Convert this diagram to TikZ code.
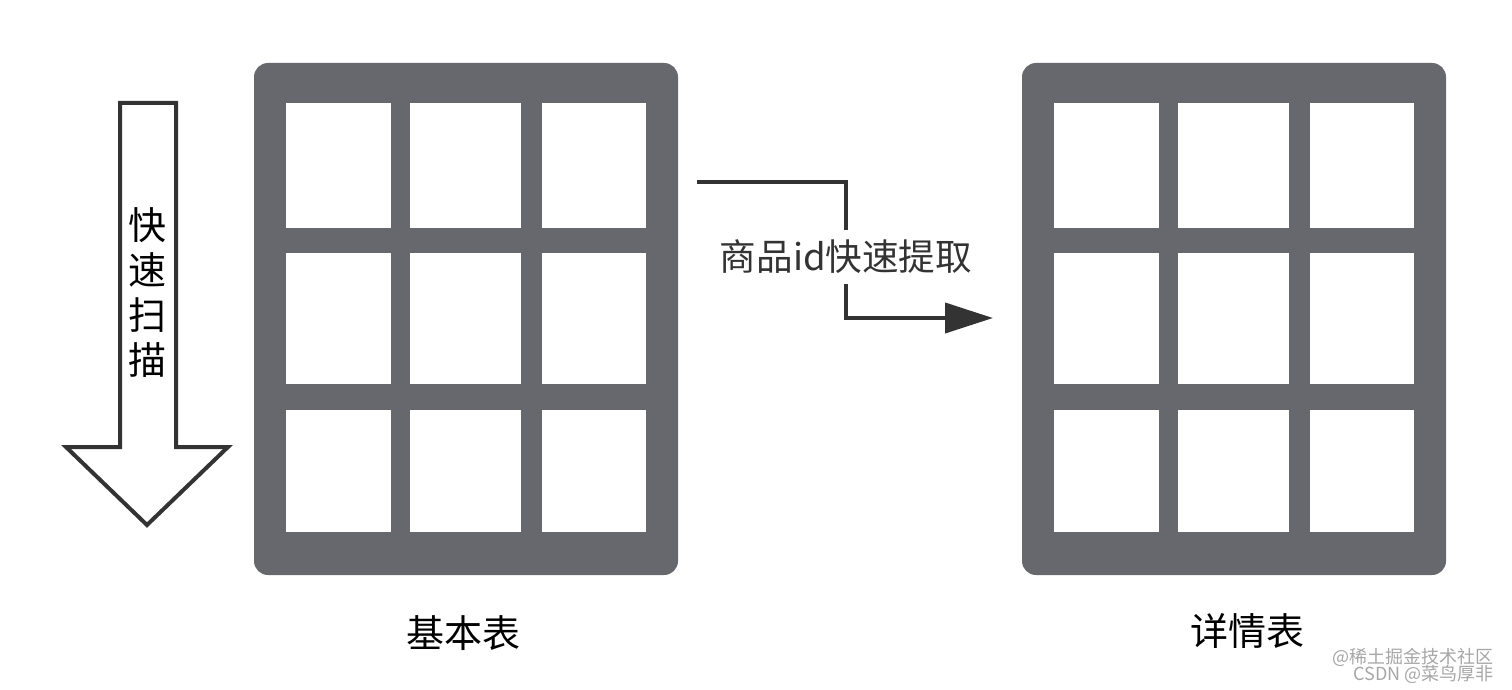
\documentclass[tikz,border=0pt]{standalone}
\usepackage{fontspec}
\setmainfont{Noto Sans CJK SC}
\usepackage{xcolor}
\usetikzlibrary{arrows.meta}
\definecolor{tablegray}{HTML}{67686E}
\definecolor{linedark}{HTML}{333333}

\begin{document}
\begin{tikzpicture}[x=0.5pt, y=-0.5pt, every node/.style={inner sep=0pt}]
    \useasboundingbox (0,0) rectangle (1512,690);
    \foreach \ox/\name in {0/basic, 768/detail}{
        \fill[tablegray, rounded corners=7pt] (254+\ox,63) rectangle (678+\ox,575);
        \foreach \cx/\cw in {286/105, 410/111, 542/104}{
            \foreach \ry/\rh in {103/125, 253/131, 410/122}{
                \fill[white] (\cx+\ox,\ry) rectangle ++(\cw,\rh);
            }
        }
        \coordinate (\name) at (466+\ox,319);
    }
    \node[font=\fontsize{19}{22}\selectfont] (basiclabel) at (463,633) {基本表};
    \node[font=\fontsize{19}{22}\selectfont] (detaillabel) at (1247,631) {详情表};
    % scan arrow
    \draw[linedark, line width=2pt, fill=white, line join=miter]
        (120,103) -- (176,103) -- (176,447) -- (228,447) -- (147,525) -- (66,447) -- (120,447) -- cycle;
    \node[align=center, font=\fontsize{19}{22.5}\selectfont] (scan) at (147,293) {快\\速\\扫\\描};
    % extract connector
    \coordinate (src) at (697,182);
    \coordinate (bend) at (846,318);
    \coordinate (dst) at (993,318);
    \draw[linedark, line width=2pt, -{Triangle[length=24pt, width=15pt]}]
        (src) -| node[pos=0.75, yshift=-3.5pt, fill=white, inner ysep=5pt, font=\fontsize{18.3}{21}\selectfont] (extract) {商品id快速提取} (bend) -- (dst);
    \node[text=gray!70, anchor=east, font=\fontsize{9}{9}\selectfont] (wmone) at (1494,657) {@稀土掘金技术社区};
    \node[text=gray!70, anchor=east, font=\fontsize{9}{9}\selectfont] (wmtwo) at (1494,674) {CSDN @菜鸟厚非};
\end{tikzpicture}
\end{document}
